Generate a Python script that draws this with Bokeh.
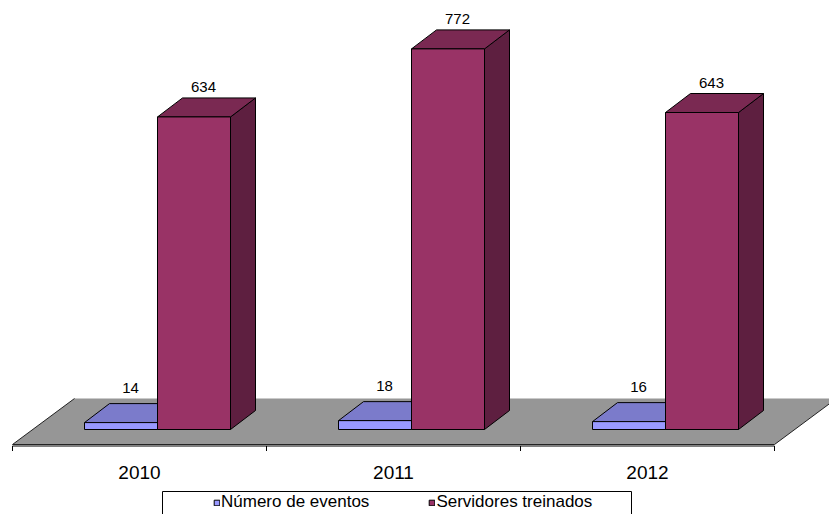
from bokeh.plotting import figure
from bokeh.models import Range1d, Legend, LegendItem
from bokeh.embed import file_html
from bokeh.resources import INLINE
from bokeh.core.properties import value

# ---------------- data ----------------
years = ["2010", "2011", "2012"]
eventos = [14, 18, 16]
servidores = [634, 772, 643]
series_names = ["Número de eventos", "Servidores treinados"]
series_values = [eventos, servidores]

# ---------------- style / geometry ----------------
W, H = 829, 514
PX_PER_CAT = 254.0          # pixels per category
PX_PER_VAL = 0.493          # pixels per value unit
X0_PX = 139                 # pixel x of first category centre
Y0_PX = 429                 # pixel y of the value 0 base of bars

front_colors = ["#9999FF", "#993366"]
top_colors = ["#7B7BCB", "#7A2952"]
side_colors = ["#5F5F9E", "#5E1F40"]
FLOOR_COLOR = "#969696"
FONT = "Liberation Sans"


def dx(px):
    return px / PX_PER_CAT


def dy(px):
    return px / PX_PER_VAL


x_start = -X0_PX / PX_PER_CAT
x_end = (W - X0_PX) / PX_PER_CAT
y_end = Y0_PX / PX_PER_VAL
y_start = -(H - Y0_PX) / PX_PER_VAL

BAR_W = dx(73)
GROUP_LEFT = dx(-55)
DEPTH_X, DEPTH_Y = dx(25), dy(19)
FLOOR_DX, FLOOR_DY = dx(62), dy(46)
FLOOR_FRONT = dy(-15)
LABEL_GAP = [dy(16), dy(11)]

p = figure(width=W, height=H, x_range=Range1d(x_start, x_end),
           y_range=Range1d(y_start, y_end), output_backend="svg",
           toolbar_location=None, x_axis_type=None, y_axis_type=None,
           min_border=0, min_border_left=0, min_border_right=0,
           min_border_top=0, min_border_bottom=0)
p.grid.visible = False
p.outline_line_color = None
p.background_fill_color = "white"

n = len(years)
# ---------------- floor ----------------
fl, fr = -0.5, n - 0.5
fb = FLOOR_FRONT + FLOOR_DY
p.patch([fl, fr, fr + FLOOR_DX, fl + FLOOR_DX],
        [FLOOR_FRONT, FLOOR_FRONT, fb, fb],
        fill_color=FLOOR_COLOR, line_color=None)
p.line([fl + FLOOR_DX, fl, fr, fr + FLOOR_DX], [fb, FLOOR_FRONT, FLOOR_FRONT, fb],
       line_color="#222222", line_width=1)

# ---------------- x axis ----------------
axis_y = FLOOR_FRONT - dy(1.5)
p.line([fl, fr], [axis_y, axis_y], line_color="black", line_width=1)
tick_x = [fl + i for i in range(n + 1)]
p.segment(x0=tick_x, y0=[axis_y] * len(tick_x), x1=tick_x,
          y1=[axis_y - dy(5)] * len(tick_x), line_color="black")
p.text(x=list(range(n)), y=[dy(-43)] * n, text=years,
       text_font=value(FONT), text_font_size="19px", text_align="center",
       text_baseline="middle", text_color="black")

# ---------------- 3d bars ----------------
legend_renderers = []
for s, vals in enumerate(series_values):
    fx, fy, tx, ty, sx, sy = [], [], [], [], [], []
    for i, v in enumerate(vals):
        x0 = i + GROUP_LEFT + s * BAR_W
        x1 = x0 + BAR_W
        fx.append([x0, x1, x1, x0]); fy.append([0, 0, v, v])
        tx.append([x0, x1, x1 + DEPTH_X, x0 + DEPTH_X])
        ty.append([v, v, v + DEPTH_Y, v + DEPTH_Y])
        sx.append([x1, x1 + DEPTH_X, x1 + DEPTH_X, x1])
        sy.append([0, DEPTH_Y, v + DEPTH_Y, v])
    p.patches(sx, sy, fill_color=side_colors[s], line_color="black", line_width=1)
    p.patches(tx, ty, fill_color=top_colors[s], line_color="black", line_width=1)
    r = p.patches(fx, fy, fill_color=front_colors[s], line_color="black", line_width=1)
    legend_renderers.append(r)
    lx = [i + GROUP_LEFT + s * BAR_W + (BAR_W + DEPTH_X) / 2 - dx(3) for i in range(n)]
    ly = [v + DEPTH_Y + LABEL_GAP[s] for v in vals]
    p.text(x=lx, y=ly, text=[str(v) for v in vals], text_font=value(FONT),
           text_font_size="15px", text_align="center", text_baseline="middle",
           text_color="black")

# ---------------- legend ----------------
bx0, bx1 = x_start + dx(162), x_start + dx(631)
by1 = y_end - dy(491)
p.quad(left=[bx0], right=[bx1], top=[by1], bottom=[y_start - dy(20)],
       fill_color="white", line_color="black", line_width=1)

legend = Legend(items=[LegendItem(label=series_names[k], renderers=[legend_renderers[k]])
                       for k in range(2)],
                orientation="horizontal", location=(213, 2),
                border_line_color=None, background_fill_alpha=0,
                glyph_width=7, glyph_height=7, label_standoff=1, spacing=59,
                padding=3, label_text_font=FONT, label_text_font_size="17px",
                label_height=17, label_text_color="black", margin=0)
p.add_layout(legend)

open("out.html", "w").write(file_html(p, INLINE))
